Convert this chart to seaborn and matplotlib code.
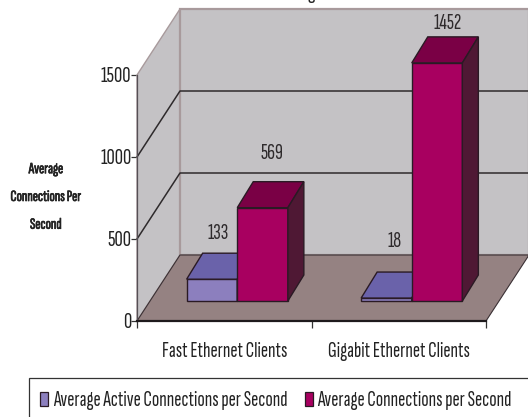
import matplotlib
matplotlib.use("Agg")
import matplotlib.patheffects as pe
import matplotlib.pyplot as plt
import pandas as pd
import seaborn as sns
from matplotlib.patches import Patch, Polygon, Rectangle
from matplotlib.transforms import Affine2D

categories = ["Fast Ethernet Clients", "Gigabit Ethernet Clients"]
active_connections = [133, 18]
total_connections = [569, 1452]
series_names = ["Average Active Connections per Second", "Average Connections per Second"]
y_ticks = [0, 500, 1000, 1500]
y_title = "Average\nConnections Per\nSecond"

# Pixel offsets of the fake 3D projection
WALL_DEPTH = (43, 66)
BAR_SHIFT = (13, 20)
BAR_DEPTH = (16, 26)
LABEL_OFFSETS = [[(6, 46), (8, 57)], [(9, 54), (11, 39)]]

FRONT = ["#8C7FBE", "#A80060"]
TOP = ["#6A62AA", "#7A0045"]
SIDE = ["#4A3F80", "#4F1834"]
WALL = "#C4C2C5"
FLOOR = "#958282"
EDGE = "#2A1A24"
WALL_EDGE = "#A89A9C"

sns.set_theme(style="white")
plt.rcParams["font.family"] = ["Sofia Sans Extra Condensed", "PT Sans Narrow", "Liberation Sans", "DejaVu Sans"]

W, H = 528, 417
fig = plt.figure(figsize=(W / 100, H / 100), dpi=100, facecolor="white")
ax = fig.add_axes([137 / W, (H - 321) / H, 349 / W, 246 / H])
ax.patch.set_visible(False)

df = pd.DataFrame({
    "client": categories * 2,
    "series": [series_names[0]] * 2 + [series_names[1]] * 2,
    "value": active_connections + total_connections,
})
sns.barplot(data=df, x="client", y="value", hue="series", palette=FRONT, saturation=1,
            width=0.58, gap=0, edgecolor=EDGE, linewidth=1.0, legend=False, ax=ax, zorder=5)

ax.set_xlim(-0.5, 1.5)
ax.set_ylim(y_ticks[0], y_ticks[-1])
ax.set_xlabel("")
ax.set_ylabel("")


def to_px(x, y, offset=(0, 0)):
    px = ax.transData.transform((x, y))
    return (px[0] + offset[0], px[1] + offset[1])


def poly(points, face, edge, z, lw=1.0):
    ax.add_patch(Polygon(points, closed=True, facecolor=face, edgecolor=edge, linewidth=lw,
                         transform=None, clip_on=False, zorder=z))


def add(a, b):
    return (a[0] + b[0], a[1] + b[1])


x0, x1 = ax.get_xlim()
y0, y1 = ax.get_ylim()

# Side wall, back wall and floor of the box
poly([to_px(x0, y0), to_px(x0, y1), to_px(x0, y1, WALL_DEPTH), to_px(x0, y0, WALL_DEPTH)], WALL, WALL_EDGE, 1)
poly([to_px(x0, y0, WALL_DEPTH), to_px(x0, y1, WALL_DEPTH), to_px(x1, y1, WALL_DEPTH), to_px(x1, y0, WALL_DEPTH)],
     WALL, WALL_EDGE, 1, 1.6)
poly([to_px(x0, y0), to_px(x0, y0, WALL_DEPTH), to_px(x1, y0, WALL_DEPTH), to_px(x1, y0)], FLOOR, "#3A3034", 2, 0.8)

# Gridlines run along the side wall and across the back wall
for tick in y_ticks[1:-1]:
    a, b, c = to_px(x0, tick), to_px(x0, tick, WALL_DEPTH), to_px(x1, tick, WALL_DEPTH)
    ax.plot([a[0], b[0], c[0]], [a[1], b[1], c[1]], transform=None, color="#2E2A2C", lw=1.1,
            clip_on=False, zorder=1.5)

# Shift each flat bar into the box and add its top and side faces
for s, container in enumerate(ax.containers):
    for i, bar in enumerate(container):
        left, right, height = bar.get_x(), bar.get_x() + bar.get_width(), bar.get_height()
        bar.set_transform(ax.transData + Affine2D().translate(*BAR_SHIFT))
        bar.set_clip_on(False)
        bar.set_zorder(3 + s)
        back = add(BAR_SHIFT, BAR_DEPTH)
        poly([to_px(left, height, BAR_SHIFT), to_px(right, height, BAR_SHIFT),
              to_px(right, height, back), to_px(left, height, back)], TOP[s], EDGE, 3 + s)
        poly([to_px(right, 0, BAR_SHIFT), to_px(right, height, BAR_SHIFT),
              to_px(right, height, back), to_px(right, 0, back)], SIDE[s], EDGE, 3 + s)
        top = to_px((left + right) / 2, height, BAR_SHIFT)
        off = LABEL_OFFSETS[s][i]
        ax.text(top[0] + off[0], top[1] + off[1], str(int(height)), transform=None,
                ha="center", va="center", fontsize=16, color="#2E2A2C", zorder=8, clip_on=False)

# Axis furniture
for name in ("top", "right"):
    ax.spines[name].set_visible(False)
ax.spines["left"].set_color("#555055")
ax.spines["left"].set_linewidth(0.9)
ax.spines["bottom"].set_color("#1E1A1C")
ax.spines["bottom"].set_linewidth(1.6)
for sp in ax.spines.values():
    sp.set_zorder(2.5)

ax.set_yticks(y_ticks)
ax.set_xticks([x0, (x0 + x1) / 2, x1], ["", "", ""])
ax.set_xticks([0, 1], categories, minor=True)
ax.tick_params(axis="x", which="major", length=5, width=0.9, color="#333333", bottom=True)
ax.tick_params(axis="x", which="minor", length=0, pad=15, labelsize=15.5, labelcolor="#222222")
ax.tick_params(axis="y", which="major", length=4, width=0.9, color="#333333", left=True, pad=0,
               labelsize=16.5, labelcolor="#222222")

fig.text(46 / W, 1 - 197 / H, y_title, ha="center", va="center", fontsize=11.3,
         color="#222222", linespacing=2.25,
         path_effects=[pe.withStroke(linewidth=0.5, foreground="#222222")])

# Descender of the title, which runs off the top of the figure
fig.text(311 / W, 1 + 1 / H, "g", ha="center", va="baseline", fontsize=16, color="#222222")

# Legend strip, open at the bottom and right edges of the figure
fig.add_artist(Rectangle((29 / W, -5 / H), 520 / W, (H - 378 + 5) / H, transform=fig.transFigure,
                         facecolor="white", edgecolor="#333333", linewidth=0.9))
handles = [Patch(facecolor=FRONT[k], edgecolor=EDGE, linewidth=0.9) for k in range(2)]
fig.legend(handles, series_names, ncols=2, frameon=False, loc="center left",
           bbox_to_anchor=(40 / W, 1 - 401 / H), fontsize=15.5, handlelength=0.38, handleheight=0.6,
           handletextpad=0.22, columnspacing=0.8, borderpad=0, borderaxespad=0, labelcolor="#222222")

fig.savefig("out.png", dpi=100, facecolor="white")
